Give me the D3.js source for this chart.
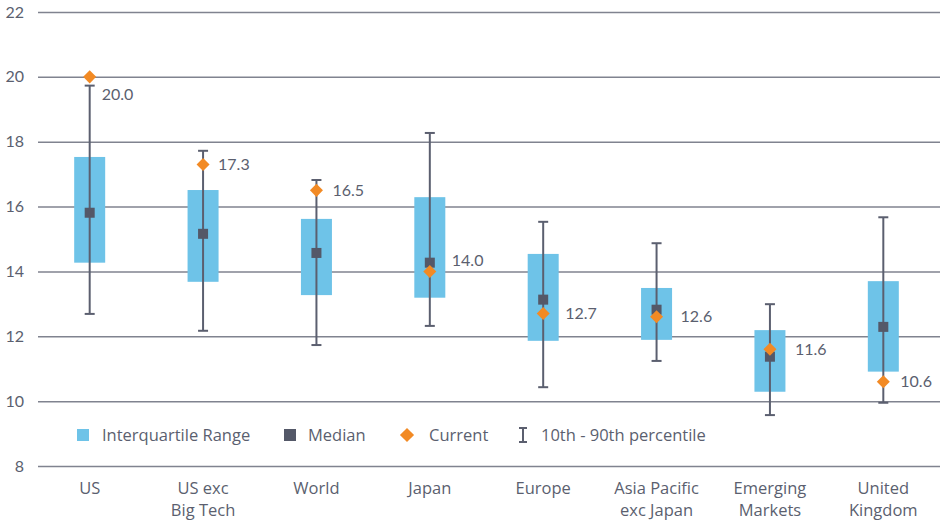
<!DOCTYPE html>
<html>
<head>
<meta charset="utf-8">
<script src="https://cdn.jsdelivr.net/npm/d3@7"></script>
<style>
    body { margin: 0; background: #fff; }
    text { font-family: "Open Sans", Lato, sans-serif; fill: #5b5f6f; }
</style>
</head>
<body>
<div id="chart"></div>
<script>
// categories (second line after \n)
var categories = ['US', 'US exc\nBig Tech', 'World', 'Japan', 'Europe', 'Asia Pacific\nexc Japan', 'Emerging\nMarkets', 'United\nKingdom'];
// 10th / 90th percentile
var p10 = [12.69, 12.17, 11.73, 12.32, 10.43, 11.24, 9.57, 9.95];
var p90 = [19.73, 17.72, 16.82, 18.27, 15.53, 14.87, 12.99, 15.67];
// interquartile range
var q1 = [14.27, 13.68, 13.27, 13.19, 11.86, 11.89, 10.29, 10.91];
var q3 = [17.53, 16.51, 15.62, 16.29, 14.54, 13.49, 12.19, 13.70];
var median = [15.81, 15.16, 14.57, 14.27, 13.13, 12.82, 11.37, 12.29];
var current = [20.0, 17.3, 16.5, 14.0, 12.7, 12.6, 11.6, 10.6];
var yTicks = [8, 10, 12, 14, 16, 18, 20, 22];
var legendLabels = ['Interquartile Range', 'Median', 'Current', '10th - 90th percentile'];

var width = 940;
var height = 522;
var padding = { top: 12, right: 0, bottom: 56, left: 38 };

var boxColor = '#6ec3e8';
var medianColor = '#545868';
var currentColor = '#f28a24';
var lineColor = '#5b5f6f';

var svg = d3.select('#chart')
    .append('svg')
    .attr('width', width)
    .attr('height', height);

var yScale = d3.scaleLinear()
    .domain([8, 22])
    .range([height - padding.bottom, padding.top]);

var xScale = d3.scaleBand()
    .domain(categories)
    .range([33, width]);

// gridlines + tick labels
var yAxis = d3.axisLeft(yScale)
    .tickValues(yTicks)
    .tickSize(-(width - padding.left))
    .tickPadding(14);

var gy = svg.append('g')
    .attr('transform', 'translate(' + padding.left + ',0)')
    .call(yAxis);
gy.select('.domain').remove();
gy.selectAll('.tick line')
    .attr('stroke', '#80838f')
    .attr('stroke-width', 1.5);
gy.selectAll('.tick text')
    .style('font-family', 'Lato, sans-serif')
    .style('font-size', '16px')
    .attr('fill', '#5b5f6f');

// x labels
var xl = svg.append('g')
    .selectAll('text')
    .data(categories)
    .enter()
    .append('text')
    .attr('text-anchor', 'middle')
    .style('font-size', '16.5px')
    .attr('transform', function (d) {
        return 'translate(' + (xScale(d) + xScale.bandwidth() / 2) + ',494)';
    });
xl.selectAll('tspan')
    .data(function (d) { return d.split('\n'); })
    .enter()
    .append('tspan')
    .attr('x', 0)
    .attr('dy', function (d, i) { return i === 0 ? 0 : 22; })
    .text(function (d) { return d; });

function cx(i) {
    return xScale(categories[i]) + xScale.bandwidth() / 2;
}
var idx = d3.range(categories.length);
var boxW = 31;

// boxes
svg.append('g')
    .selectAll('rect')
    .data(idx)
    .enter()
    .append('rect')
    .attr('x', function (i) { return cx(i) - boxW / 2; })
    .attr('y', function (i) { return yScale(q3[i]); })
    .attr('width', boxW)
    .attr('height', function (i) { return yScale(q1[i]) - yScale(q3[i]); })
    .attr('fill', boxColor);

// whiskers
var wg = svg.append('g')
    .attr('stroke', lineColor)
    .attr('stroke-width', 2);
wg.selectAll('line.v')
    .data(idx)
    .enter()
    .append('line')
    .attr('x1', cx).attr('x2', cx)
    .attr('y1', function (i) { return yScale(p90[i]); })
    .attr('y2', function (i) { return yScale(p10[i]); });
[p10, p90].forEach(function (arr) {
    wg.selectAll(null)
        .data(idx)
        .enter()
        .append('line')
        .attr('x1', function (i) { return cx(i) - 5; })
        .attr('x2', function (i) { return cx(i) + 5; })
        .attr('y1', function (i) { return yScale(arr[i]); })
        .attr('y2', function (i) { return yScale(arr[i]); });
});

// median squares
svg.append('g')
    .selectAll('rect')
    .data(idx)
    .enter()
    .append('rect')
    .attr('x', function (i) { return cx(i) - 5; })
    .attr('y', function (i) { return yScale(median[i]) - 5; })
    .attr('width', 10)
    .attr('height', 10)
    .attr('fill', medianColor);

// current diamonds
var diamond = d3.symbol().type(d3.symbolSquare).size(85);
svg.append('g')
    .selectAll('path')
    .data(idx)
    .enter()
    .append('path')
    .attr('d', diamond)
    .attr('transform', function (i) {
        return 'translate(' + cx(i) + ',' + yScale(current[i]) + ') rotate(45)';
    })
    .attr('fill', currentColor);

// current labels (US sits below its marker, Japan a little above)
var labelDx = [12, 15, 16, 22, 22, 24, 25, 17];
svg.append('g')
    .selectAll('text')
    .data(idx)
    .enter()
    .append('text')
    .attr('x', function (i) { return cx(i) + labelDx[i]; })
    .attr('y', function (i) {
        var y = yScale(current[i]);
        if (i === 0) return y + 18;
        if (i === 3) return y - 11;
        return y;
    })
    .attr('dy', '0.35em')
    .style('font-family', 'Lato, sans-serif')
    .style('font-size', '16px')
    .text(function (i) { return d3.format('.1f')(current[i]); });

// legend
var lg = svg.append('g').attr('transform', 'translate(0,435)');
lg.append('rect').attr('x', 77).attr('y', -6).attr('width', 12).attr('height', 12).attr('fill', boxColor);
lg.append('rect').attr('x', 284).attr('y', -6).attr('width', 12).attr('height', 12).attr('fill', medianColor);
lg.append('path').attr('d', d3.symbol().type(d3.symbolSquare).size(100)).attr('transform', 'translate(407,0) rotate(45)').attr('fill', currentColor);
var wl = lg.append('g').attr('stroke', lineColor).attr('stroke-width', 2);
wl.append('line').attr('x1', 523).attr('x2', 523).attr('y1', -7).attr('y2', 7);
wl.append('line').attr('x1', 519).attr('x2', 527).attr('y1', -7).attr('y2', -7);
wl.append('line').attr('x1', 519).attr('x2', 527).attr('y1', 7).attr('y2', 7);
var legendX = [102, 308, 429, 541];
lg.selectAll('text.leg')
    .data(legendLabels)
    .enter()
    .append('text')
    .attr('x', function (d, i) { return legendX[i]; })
    .attr('dy', '0.35em')
    .style('font-size', '16.5px')
    .text(function (d) { return d; });
</script>
</body>
</html>
